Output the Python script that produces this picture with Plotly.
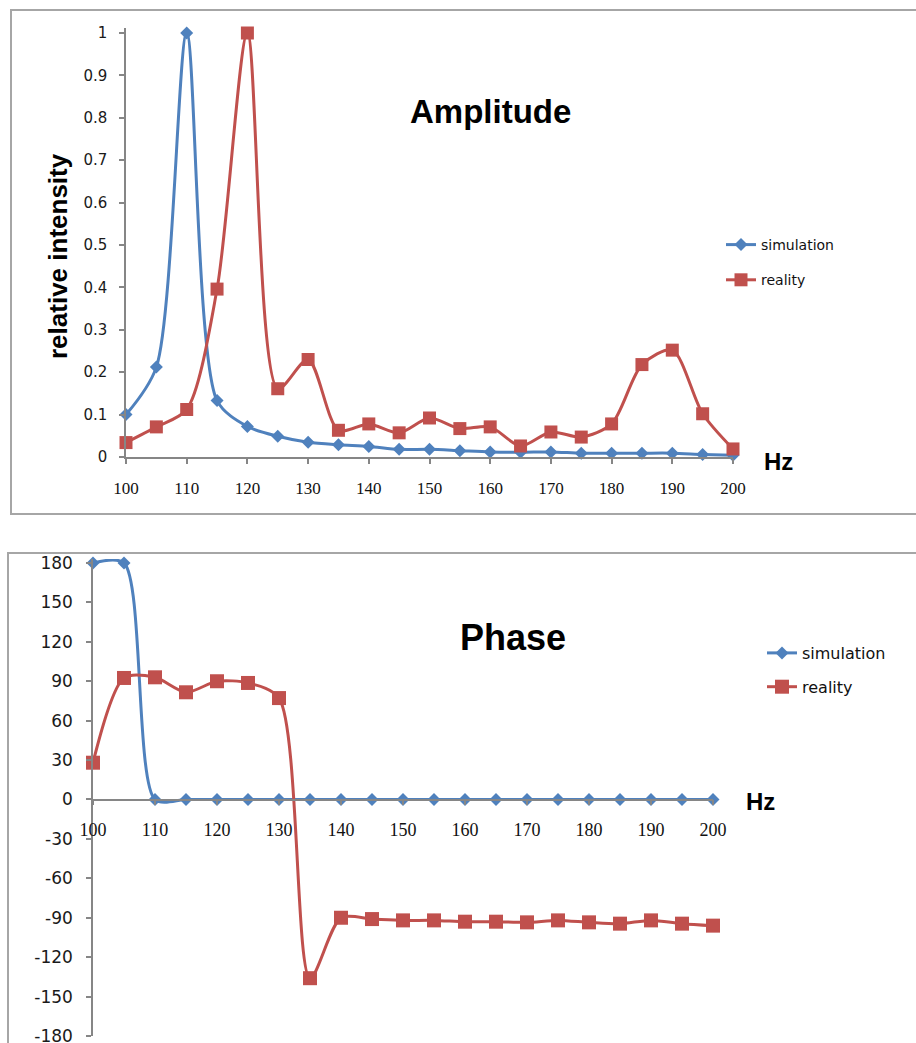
import plotly.graph_objects as go

# Frequency grid (Hz)
freq = [100, 105, 110, 115, 120, 125, 130, 135, 140, 145, 150,
        155, 160, 165, 170, 175, 180, 185, 190, 195, 200]

# Relative amplitude
amp_simulation = [0.100, 0.212, 1.000, 0.133, 0.072, 0.049, 0.035, 0.029, 0.025, 0.018, 0.018,
                  0.015, 0.012, 0.011, 0.012, 0.009, 0.009, 0.009, 0.009, 0.006, 0.004]
amp_reality = [0.034, 0.071, 0.112, 0.396, 1.000, 0.161, 0.230, 0.063, 0.078, 0.057, 0.092,
               0.067, 0.071, 0.026, 0.059, 0.047, 0.078, 0.218, 0.252, 0.102, 0.019]

# Phase (degrees)
phase_simulation = [180, 180, 0, 0, 0, 0, 0, 0, 0, 0, 0,
                    0, 0, 0, 0, 0, 0, 0, 0, 0, 0]
phase_reality = [28, 92.5, 93, 81.6, 90, 88.7, 77.2, -136, -90, -91, -92,
                 -92, -93, -93, -93.5, -92, -93.5, -94.5, -92, -94.5, -96]

x_ticks = list(range(100, 201, 10))
amp_ticks = [round(0.1 * i, 1) for i in range(11)]
phase_ticks = list(range(-180, 181, 30))
phase_tick_text = [str(v) for v in phase_ticks]  # plain hyphen for negatives

BLUE = "#4F81BD"
RED = "#C0504D"
AXIS = "#868686"
W, H = 916, 1043
SMOOTH = 0.8


def px(v):
    return v / W


def py(v):
    return 1 - v / H


# pixel geometry of the two plot areas
AMP_TOP, AMP_ZERO = 33, 457          # y pixel of 1.0 and 0
AMP_HEAD = 0.012                     # small headroom so the peak lines aren't clipped
PH_TOP, PH_BOT = 563, 1036           # y pixel of +180 and -180
PH_HEAD = 3
amp_scale = AMP_ZERO - AMP_TOP
ph_scale = (PH_BOT - PH_TOP) / 360

fig = go.Figure()

fig.add_trace(go.Scatter(
    x=freq, y=amp_simulation, name="simulation", mode="lines+markers",
    line=dict(color=BLUE, width=3, shape="spline", smoothing=SMOOTH),
    marker=dict(symbol="diamond", size=10, color=BLUE),
    xaxis="x", yaxis="y", legend="legend", legendgroup="a1", cliponaxis=False))
fig.add_trace(go.Scatter(
    x=freq, y=amp_reality, name="reality", mode="lines+markers",
    line=dict(color=RED, width=3, shape="spline", smoothing=SMOOTH),
    marker=dict(symbol="square", size=13, color=RED),
    xaxis="x", yaxis="y", legend="legend", legendgroup="a2", cliponaxis=False))

fig.add_trace(go.Scatter(
    x=freq, y=phase_simulation, name="simulation", mode="lines+markers",
    line=dict(color=BLUE, width=3, shape="spline", smoothing=SMOOTH),
    marker=dict(symbol="diamond", size=10, color=BLUE),
    xaxis="x2", yaxis="y2", legend="legend2", legendgroup="p1", cliponaxis=False))
fig.add_trace(go.Scatter(
    x=freq, y=phase_reality, name="reality", mode="lines+markers",
    line=dict(color=RED, width=3, shape="spline", smoothing=SMOOTH),
    marker=dict(symbol="square", size=14, color=RED),
    xaxis="x2", yaxis="y2", legend="legend2", legendgroup="p2", cliponaxis=False))

tick_common = dict(showgrid=False, zeroline=False, showline=True, linecolor=AXIS,
                   linewidth=1.5, ticks="outside", ticklen=5, tickcolor=AXIS, tickwidth=1.5,
                   automargin=False, ticklabeloverflow="allow")

fig.update_layout(
    width=W, height=H,
    margin=dict(l=0, r=0, t=0, b=0, autoexpand=False),
    paper_bgcolor="white", plot_bgcolor="white",
    xaxis=dict(domain=[px(126), px(733)], range=[100, 200], tickvals=x_ticks,
               anchor="y", ticklabelstandoff=10,
               tickfont=dict(family="Liberation Serif", size=17, color="#111"),
               **tick_common),
    yaxis=dict(domain=[py(AMP_ZERO), py(AMP_ZERO - (1 + AMP_HEAD) * amp_scale)],
               range=[0, 1 + AMP_HEAD], tickvals=amp_ticks,
               anchor="x", ticklabelstandoff=9,
               tickfont=dict(family="DejaVu Sans", size=15, color="#1a1a1a"),
               **tick_common),
    xaxis2=dict(domain=[px(93), px(713)], range=[100, 200], tickvals=x_ticks,
                anchor="free", position=py(PH_BOT - 180 * ph_scale), ticklabelstandoff=9,
                tickfont=dict(family="Liberation Serif", size=18, color="#111"),
                **tick_common),
    yaxis2=dict(domain=[py(PH_BOT), py(PH_TOP - PH_HEAD * ph_scale)],
                range=[-180, 180 + PH_HEAD], tickvals=phase_ticks, ticktext=phase_tick_text,
                anchor="x2", ticklabelstandoff=10,
                tickfont=dict(family="DejaVu Sans", size=17, color="#1a1a1a"),
                **tick_common),
    legend=dict(x=px(721), y=py(229), xanchor="left", yanchor="top",
                bgcolor="rgba(0,0,0,0)", tracegroupgap=14,
                font=dict(family="DejaVu Sans", size=14, color="#111")),
    legend2=dict(x=px(762), y=py(636), xanchor="left", yanchor="top",
                 bgcolor="rgba(0,0,0,0)", tracegroupgap=10,
                 font=dict(family="DejaVu Sans", size=16, color="#111")),
    showlegend=True,
)

# Chart frames
fig.add_shape(type="rect", xref="paper", yref="paper",
              x0=px(11), x1=px(940), y0=py(514), y1=py(10),
              line=dict(color="#A6A6A6", width=2), layer="below")
fig.add_shape(type="rect", xref="paper", yref="paper",
              x0=px(8), x1=px(940), y0=py(1070), y1=py(553),
              line=dict(color="#A6A6A6", width=2), layer="below")

labels = [
    dict(text="<b>Amplitude</b>", x=490, y=112, size=33, angle=0),
    dict(text="<b>relative intensity</b>", x=58, y=256, size=26, angle=-90),
    dict(text="<b>Hz</b>", x=778, y=461, size=24, angle=0),
    dict(text="<b>Phase</b>", x=513, y=637, size=36, angle=0),
    dict(text="<b>Hz</b>", x=760, y=801, size=24, angle=0),
]
for lb in labels:
    fig.add_annotation(text=lb["text"], x=px(lb["x"]), y=py(lb["y"]),
                       xref="paper", yref="paper", showarrow=False,
                       xanchor="center", yanchor="middle", textangle=lb["angle"],
                       font=dict(family="Liberation Sans", size=lb["size"], color="black"))

fig.write_html("out.html")
